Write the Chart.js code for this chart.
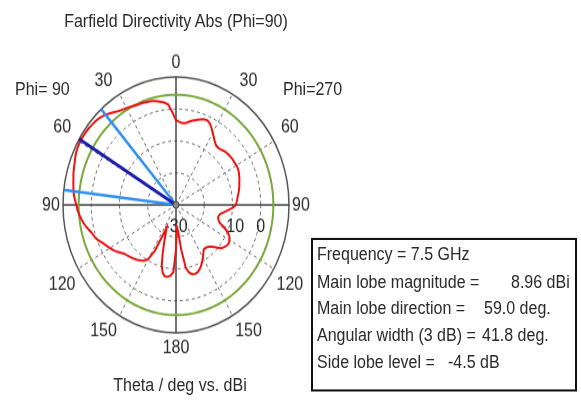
<!DOCTYPE html>
<html><head><meta charset="utf-8">
<script src="https://cdn.jsdelivr.net/npm/chart.js@4/dist/chart.umd.min.js"></script>
<style>
html,body{margin:0;padding:0;background:#fff;width:581px;height:403px;overflow:hidden;}
#outer{position:relative;width:581px;height:403px;overflow:hidden;}
#wrap{position:absolute;left:0;top:0;width:581px;height:356px;transform:scaleY(1.13202);transform-origin:0 0;font-family:"Liberation Sans",Arial,sans-serif;font-size:16px;color:#2a2a2a;}
.t{position:absolute;white-space:nowrap;line-height:18px;}
#info{position:absolute;left:311px;top:210px;width:262px;height:132px;border:2px solid #111;}
</style></head><body>
<div id="outer">
<div id="wrap">
 <div class="t" style="left:0;width:352px;top:10px;text-align:center">Farfield Directivity Abs (Phi=90)</div>
 <div class="t" style="left:15px;top:70px">Phi= 90</div>
 <div class="t" style="left:283px;top:70px">Phi=270</div>
 <canvas id="c" width="350" height="350" style="position:absolute;left:1px;top:6px"></canvas>
 <div class="t" style="left:80px;width:200px;top:331px;text-align:center">Theta / deg vs. dBi</div>
 <div id="info"></div>
</div>
</div>
<script>
// ---- data ----
// polar angle, clockwise from top, in 2.5 deg steps: 0..180 = Phi=270 side (theta), 180..360 = Phi=90 side (theta = 360 - angle)
const angleStepDeg = 2.5;
const angleLabels = [];
for (let a = 0; a < 360; a += angleStepDeg) angleLabels.push(String(a));
const directivityDbi = [
 -3.5,-4.0,-4.3,-4.2,-3.6,-3.0,-2.5,-2.0,-1.5,-1.3,-1.8,-2.8,
 -4.0,-5.0,-6.0,-6.6,-6.7,-6.5,-6.1,-5.8,-5.6,-5.5,-5.4,-5.4,
 -5.3,-5.3,-5.5,-5.8,-6.1,-6.5,-6.8,-7.1,-7.5,-7.9,-8.2,-8.5,
 -8.8,-9.8,-11.5,-12.8,-14.0,-14.5,-14.6,-14.2,-13.5,-11.5,-9.8,-8.7,
 -8.1,-7.8,-7.9,-8.4,-9.0,-10.2,-11.5,-12.3,-12.8,-13.0,-12.9,-12.0,
 -11.0,-9.9,-9.0,-8.2,-7.6,-7.4,-7.6,-8.3,-10.0,-16.0,-22.0,-23.0,
 -16.0,-9.0,-7.8,-7.3,-7.3,-8.2,-10.5,-14.5,-18.0,-20.5,-22.0,-14.0,
 -10.5,-9.3,-8.7,-8.2,-7.8,-7.4,-7.0,-6.6,-6.2,-5.4,-4.5,-3.7,
 -3.0,-2.3,-1.6,-0.6,0.3,0.8,1.5,2.4,3.2,3.8,4.4,4.9,
 5.3,5.8,6.3,6.6,6.9,7.2,7.6,7.9,8.2,8.6,9.0,9.2,
 9.3,9.3,9.2,9.1,8.9,8.7,8.4,7.9,7.2,6.5,5.8,5.3,
 5.0,4.6,4.3,4.1,4.0,3.8,3.6,3.3,2.8,2.3,1.5,-1.0
];
const mainLobeDbi = 8.96;
const sideLobeLevelDb = -4.5;
const sideLobeCircleDbi = mainLobeDbi + sideLobeLevelDb;
const mainLobeThetaDeg = 59.0;
const beamEdgeThetaDeg = [41.5, 83.3];
const radialMin = -30, radialMax = 10, radialStep = 10;
const radialTickLabels = [-30, -10, 0];
const angleTickDeg = [0,30,60,90,120,150,180,210,240,270,300,330];
const angleTickText = ['0','30','60','90','120','150','180','150','120','90','60','30'];
const infoLabels = ['Frequency = 7.5 GHz','Main lobe magnitude =','Main lobe direction =','Angular width (3 dB) =','Side lobe level ='];
const infoValues = ['','8.96 dBi','59.0 deg.','41.8 deg.','-4.5 dB'];

// ---- info box ----
const infoTops = [4, 28, 51, 75, 98.5];
const infoValueLefts = [0, 198, 171, 169, 135];
const info = document.getElementById('info');
infoLabels.forEach((lab, i) => {
  const d = document.createElement('div'); d.className = 't';
  d.style.left = '4px'; d.style.top = infoTops[i] + 'px'; d.textContent = lab; info.appendChild(d);
  if (infoValues[i]) {
    const v = document.createElement('div'); v.className = 't';
    v.style.left = infoValueLefts[i] + 'px'; v.style.top = infoTops[i] + 'px'; v.textContent = infoValues[i]; info.appendChild(v);
  }
});

const FONT = '16px "Liberation Sans", Arial, sans-serif';
const polarDecor = {
  id: 'polarDecor',
  beforeDatasetsDraw(chart) {
    const s = chart.scales.r, ctx = chart.ctx;
    const n = chart.data.labels.length, step = 360 / n;
    const R = s.getDistanceFromCenterForValue(radialMax);
    ctx.save();
    ctx.font = FONT; ctx.fillStyle = '#2a2a2a'; ctx.textAlign = 'center'; ctx.textBaseline = 'middle';
    angleTickDeg.forEach((deg, k) => {
      const p = s.getPointPosition(deg / step, R);
      const sn = Math.sin(deg * Math.PI / 180), cs = Math.cos(deg * Math.PI / 180);
      let ox = 0, oy = 0;
      if (Math.abs(cs) < 0.01) ox = Math.sign(sn) * 12;
      else if (Math.abs(sn) < 0.01) oy = -Math.sign(cs) * 13;
      else { ox = Math.sign(sn) * 16; oy = -Math.sign(cs) * 13; }
      ctx.fillText(angleTickText[k], p.x + ox, p.y + oy + 1);
    });
    radialTickLabels.forEach(v => {
      const p = s.getPointPositionForValue(90 / step, v);
      ctx.fillText(String(v), p.x, p.y + 20);
    });
    ctx.restore();
  },
  afterDatasetsDraw(chart) {
    const s = chart.scales.r, ctx = chart.ctx;
    const n = chart.data.labels.length, step = 360 / n;
    const R = s.getDistanceFromCenterForValue(radialMax);
    const ray = (theta, color, w) => {
      const p = s.getPointPosition((360 - theta) / step, R);
      ctx.beginPath(); ctx.moveTo(s.xCenter, s.yCenter); ctx.lineTo(p.x, p.y);
      ctx.strokeStyle = color; ctx.lineWidth = w; ctx.stroke();
    };
    ctx.save();
    beamEdgeThetaDeg.forEach(t => ray(t, '#2f8ff0', 2.5));
    ray(mainLobeThetaDeg, '#1c1ca8', 3);
    ctx.beginPath(); ctx.arc(s.xCenter, s.yCenter, 3, 0, Math.PI * 2);
    ctx.fillStyle = '#888'; ctx.fill(); ctx.strokeStyle = '#444'; ctx.lineWidth = 1; ctx.stroke();
    ctx.restore();
  }
};

new Chart(document.getElementById('c'), {
  type: 'radar',
  data: {
    labels: angleLabels,
    datasets: [
      { data: directivityDbi, borderColor: '#ee1111', borderWidth: 2, fill: false, pointRadius: 0, pointHoverRadius: 0, tension: 0 },
      { data: angleLabels.map(() => sideLobeCircleDbi), borderColor: '#78a83a', borderWidth: 2, fill: false, pointRadius: 0, pointHoverRadius: 0, tension: 0 }
    ]
  },
  options: {
    responsive: false, animation: false, events: [],
    layout: { padding: 62 },
    plugins: { legend: { display: false }, tooltip: { enabled: false } },
    scales: {
      r: {
        min: radialMin, max: radialMax,
        ticks: { display: false, stepSize: radialStep },
        pointLabels: { display: false },
        grid: {
          circular: true,
          color: c => (c.tick && c.tick.value === radialMax) ? '#555' : '#666',
          lineWidth: c => (c.tick && c.tick.value === radialMax) ? 1.5 : 1
        },
        border: { dash: c => (c.tick && c.tick.value === radialMax) ? [] : [3, 3] },
        angleLines: {
          display: true,
          color: c => (c.index % 36 === 0) ? '#444' : '#666',
          lineWidth: c => (c.index % 12 !== 0) ? 0 : (c.index % 36 === 0 ? 1.5 : 1),
          borderDash: c => (c.index % 36 === 0) ? [] : [3, 3]
        }
      }
    }
  },
  plugins: [polarDecor]
});
</script>
</body></html>
